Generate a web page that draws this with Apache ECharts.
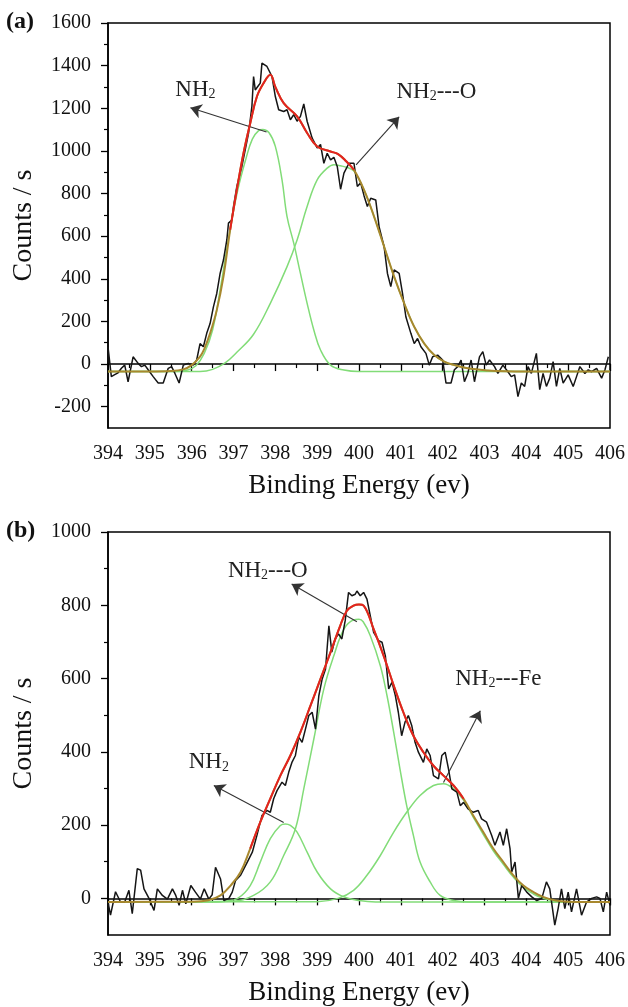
<!DOCTYPE html>
<html><head><meta charset="utf-8">
<script src="https://cdn.jsdelivr.net/npm/echarts@6/dist/echarts.min.js"></script>
<style>html,body{margin:0;padding:0;background:#fff}#c{width:628px;height:1007px}</style>
</head><body><div id="c"></div>
<script>
// ---------- data (binding energy eV, counts/s) ----------
const rawA = [[394.00,81],[394.08,-59],[394.16,-50],[394.24,-41],[394.32,-20],[394.40,-5],[394.48,-83],[394.60,34],[394.72,3],[394.80,-12],[394.88,-5],[394.96,-27],[395.08,-59],[395.20,-89],[395.32,-89],[395.44,-20],[395.52,-12],[395.60,-44],[395.70,-89],[395.80,-5],[395.92,3],[396.04,-5],[396.12,19],[396.20,96],[396.28,81],[396.36,144],[396.44,190],[396.52,268],[396.60,331],[396.68,425],[396.76,488],[396.84,582],[396.88,661],[396.96,676],[397.00,739],[397.08,833],[397.16,896],[397.20,927],[397.28,1005],[397.36,1084],[397.40,1146],[397.44,1209],[397.48,1349],[397.52,1286],[397.58,1302],[397.64,1318],[397.68,1412],[397.80,1396],[397.92,1349],[398.00,1255],[398.08,1193],[398.20,1185],[398.28,1193],[398.36,1146],[398.44,1170],[398.52,1139],[398.60,1162],[398.68,1220],[398.76,1139],[398.88,1060],[399.00,1014],[399.08,1030],[399.16,942],[399.24,989],[399.32,958],[399.40,970],[399.48,927],[399.56,820],[399.64,896],[399.76,942],[399.88,942],[399.96,833],[400.04,850],[400.12,790],[400.20,739],[400.28,778],[400.40,770],[400.48,645],[400.60,551],[400.68,425],[400.76,363],[400.84,442],[400.96,425],[401.04,332],[401.12,222],[401.24,144],[401.32,96],[401.40,120],[401.48,81],[401.60,50],[401.68,-5],[401.76,34],[401.88,42],[402.00,19],[402.08,-89],[402.20,-89],[402.28,-27],[402.36,-12],[402.44,19],[402.52,-83],[402.60,-44],[402.68,19],[402.76,-83],[402.88,34],[402.96,58],[403.04,-5],[403.12,19],[403.24,-12],[403.32,-44],[403.44,-5],[403.56,-36],[403.64,-59],[403.72,-51],[403.80,-153],[403.88,-89],[403.96,-105],[404.04,-12],[404.12,-44],[404.24,50],[404.32,-120],[404.40,-44],[404.48,-105],[404.56,-66],[404.64,11],[404.72,-105],[404.80,-20],[404.88,-89],[405.00,-51],[405.12,-105],[405.20,-59],[405.28,-12],[405.40,-44],[405.48,-27],[405.56,-36],[405.68,-20],[405.80,-66],[405.88,-27],[405.96,34]];
const envA = [[394.0,-35],[395.0,-35],[395.5,-33],[395.8,-25],[396.0,-5],[396.2,35],[396.3,70],[396.44,144],[396.6,253],[396.76,410],[396.92,630],[397.08,818],[397.24,990],[397.4,1130],[397.56,1255],[397.72,1318],[397.88,1357],[398.0,1300],[398.2,1224],[398.52,1162],[398.76,1084],[399.0,1021],[399.32,997],[399.5,985],[399.7,950],[399.88,911],[400.12,817],[400.36,692],[400.6,551],[400.84,410],[401.08,285],[401.32,175],[401.56,96],[401.8,42],[402.04,11],[402.28,-5],[402.6,-20],[403.08,-30],[403.5,-34],[404.0,-35],[406.0,-35]];
const compA1 = [[394.0,-35],[395.6,-35],[395.9,-28],[396.1,-8],[396.3,50],[396.5,160],[396.7,370],[396.9,610],[397.1,815],[397.3,965],[397.45,1055],[397.6,1095],[397.7,1100],[397.85,1085],[398.0,1021],[398.16,864],[398.28,692],[398.44,567],[398.6,425],[398.76,285],[398.92,160],[399.08,66],[399.32,-5],[399.64,-28],[400.0,-35],[406.0,-35]];
const compA2 = [[394.0,-35],[396.2,-35],[396.5,-25],[396.8,5],[397.08,55],[397.48,140],[397.88,285],[398.28,457],[398.52,582],[398.76,739],[399.0,864],[399.24,919],[399.4,935],[399.56,930],[399.72,922],[399.88,905],[400.12,817],[400.36,692],[400.6,551],[400.84,410],[401.08,285],[401.32,175],[401.56,96],[401.8,42],[402.04,11],[402.28,-5],[402.6,-20],[403.08,-30],[403.5,-34],[404.0,-35],[406.0,-35]];

const rawB = [[394.00,-10],[394.06,-46],[394.18,18],[394.30,-10],[394.40,-10],[394.50,22],[394.58,-42],[394.70,81],[394.78,77],[394.86,26],[394.98,0],[395.10,-33],[395.18,26],[395.30,8],[395.42,-2],[395.54,26],[395.62,8],[395.70,-19],[395.78,22],[395.86,-15],[395.98,35],[396.09,17],[396.21,-2],[396.30,26],[396.41,-2],[396.49,10],[396.57,85],[396.69,53],[396.77,-6],[396.89,0],[396.97,17],[397.05,49],[397.17,63],[397.25,81],[397.33,99],[397.45,126],[397.56,172],[397.68,226],[397.80,240],[397.88,235],[397.96,272],[398.04,294],[398.16,317],[398.24,308],[398.32,344],[398.40,372],[398.48,390],[398.56,440],[398.64,426],[398.72,462],[398.80,499],[398.88,508],[398.96,462],[399.04,553],[399.12,599],[399.20,626],[399.28,744],[399.35,672],[399.43,708],[399.51,722],[399.59,708],[399.67,758],[399.75,835],[399.83,826],[399.91,830],[399.95,839],[400.03,826],[400.11,835],[400.19,817],[400.27,771],[400.35,726],[400.47,703],[400.55,699],[400.63,662],[400.71,572],[400.79,590],[400.87,553],[400.94,508],[401.02,444],[401.10,481],[401.18,499],[401.26,472],[401.34,426],[401.42,399],[401.54,371],[401.62,408],[401.70,390],[401.78,335],[401.90,326],[401.98,390],[402.06,399],[402.14,353],[402.22,299],[402.34,290],[402.42,253],[402.50,262],[402.61,244],[402.73,235],[402.85,240],[402.93,217],[403.05,208],[403.17,172],[403.25,145],[403.37,181],[403.45,145],[403.53,190],[403.61,136],[403.65,72],[403.73,99],[403.81,0],[403.89,35],[404.01,17],[404.13,4],[404.25,-6],[404.37,0],[404.48,45],[404.56,26],[404.68,-73],[404.76,-28],[404.84,26],[404.92,-28],[405.00,17],[405.08,-37],[405.20,26],[405.32,-46],[405.44,-10],[405.56,0],[405.68,4],[405.76,0],[405.84,-37],[405.92,17],[406.00,-19]];
const envB = [[394.0,-10],[396.0,-9],[396.4,-5],[396.69,8],[396.93,35],[397.17,72],[397.4,136],[397.64,208],[397.88,272],[398.12,335],[398.36,390],[398.6,454],[398.84,526],[399.08,599],[399.32,672],[399.55,744],[399.71,785],[399.87,799],[400.0,802],[400.11,799],[400.35,735],[400.59,662],[400.83,581],[401.06,508],[401.3,444],[401.54,399],[401.78,362],[402.02,335],[402.26,308],[402.5,272],[402.73,226],[402.97,181],[403.21,136],[403.45,99],[403.69,63],[403.93,35],[404.17,17],[404.4,4],[404.7,-6],[405.0,-9],[406.0,-10]];
const compB1 = [[394.0,-10],[396.6,-10],[396.8,-8],[397.1,0],[397.4,35],[397.64,99],[397.88,163],[398.12,199],[398.24,203],[398.36,199],[398.52,181],[398.76,126],[399.0,72],[399.32,26],[399.64,4],[400.0,-6],[400.4,-10],[406.0,-10]];
const compB2 = [[394.0,-10],[397.0,-8],[397.48,8],[397.88,45],[398.2,117],[398.48,190],[398.68,299],[398.92,435],[399.16,572],[399.4,663],[399.64,735],[399.87,760],[400.0,762],[400.1,755],[400.27,717],[400.51,635],[400.67,553],[400.83,453],[400.98,353],[401.14,253],[401.3,172],[401.46,99],[401.7,45],[401.94,8],[402.26,-6],[402.6,-10],[406.0,-10]];
const compB3 = [[394.0,-10],[399.0,-9],[399.5,0],[399.87,22],[400.19,63],[400.51,117],[400.83,181],[401.14,235],[401.46,281],[401.78,308],[402.02,313],[402.26,299],[402.5,268],[402.73,222],[402.97,175],[403.21,130],[403.45,93],[403.69,58],[403.93,30],[404.17,12],[404.4,0],[404.7,-7],[405.0,-10],[406.0,-10]];

// tick values
const yMajorA = [-200,0,200,400,600,800,1000,1200,1400,1600];
const yMinorA = [-100,100,300,500,700,900,1100,1300,1500];
const yMajorB = [0,200,400,600,800,1000];
const yMinorB = [100,300,500,700,900];

// annotations: label text, label position [eV, counts], arrow tail, arrow head
const labelsA = [
  {text:'NH{s|2}', at:[396.09,1286], tail:[397.79,1089], head:[395.97,1202]},
  {text:'NH{s|2}---O', at:[401.85,1277], tail:[399.93,934], head:[400.96,1160]}
];
const labelsB = [
  {text:'NH{s|2}---O', at:[397.82,894], tail:[399.95,755], head:[398.39,858]},
  {text:'NH{s|2}---Fe', at:[403.33,599], tail:[402.02,316], head:[402.90,512]},
  {text:'NH{s|2}', at:[396.41,371], tail:[398.20,207], head:[396.53,308]}
];

// ---------- styling ----------
const FONT = '"Liberation Serif","DejaVu Serif",serif';
const GREEN = '#82dc78', RED = '#e4221f', OLIVE = '#a8882e', BLACK = '#151515';

function xAx(gi){
  return {gridIndex:gi, type:'value', min:394, max:406, interval:1,
    name:'Binding Energy (ev)', nameLocation:'middle', nameGap:44,
    nameTextStyle:{fontFamily:FONT, fontSize:27, color:'#111'},
    axisLine:{show:true, lineStyle:{color:'#000', width:1.5}},
    axisTick:{show:true, inside:false, length:7, lineStyle:{color:'#000', width:1.3}},
    minorTick:{show:true, splitNumber:2, length:4, lineStyle:{color:'#000', width:1.2}},
    axisLabel:{fontFamily:FONT, fontSize:20, color:'#111', margin:16, formatter:v=>String(v)},
    splitLine:{show:false}};
}
function yAx(gi, min, max, major, withName){
  return {gridIndex:gi, type:'value', min:min, max:max,
    name: withName ? 'Counts / s' : '', nameLocation:'middle', nameGap:70, nameRotate:90,
    nameTextStyle:{fontFamily:FONT, fontSize:28, color:'#111'},
    axisLine:{show:true, lineStyle:{color:'#000', width:1.5}},
    axisTick:{show:true, inside:false, length:7, customValues:major, lineStyle:{color:'#000', width:1.3}},
    axisLabel:{fontFamily:FONT, fontSize:20, color:'#111', margin:17, customValues:major, formatter:v=>String(v)},
    splitLine:{show:false}};
}
function yMinor(gi, min, max, minor){
  return {gridIndex:gi, type:'value', min:min, max:max, position:'left',
    axisLine:{show:false}, axisLabel:{show:false}, splitLine:{show:false},
    axisTick:{show:true, inside:false, length:4, customValues:minor, lineStyle:{color:'#000', width:1.2}}};
}
function line(data, xi, yi, color, width, smooth, z){
  return {type:'line', data:data, xAxisIndex:xi, yAxisIndex:yi, symbol:'none', smooth:smooth,
    lineStyle:{color:color, width:width}, z:z, silent:true, animation:false};
}
function annot(list, xi, yi){
  return {type:'line', data:[], xAxisIndex:xi, yAxisIndex:yi, z:10, silent:true, animation:false,
    markLine:{silent:true, animation:false, symbol:['none','arrow'], symbolSize:11,
      lineStyle:{color:'#333', width:1.1, type:'solid'}, label:{show:false},
      data:list.map(l=>[{coord:l.tail},{coord:l.head}])},
    markPoint:{silent:true, animation:false, symbol:'circle', symbolSize:1,
      itemStyle:{color:'rgba(0,0,0,0)'},
      label:{show:true, position:'inside', color:'#222', fontFamily:FONT, fontSize:23,
        rich:{s:{fontFamily:FONT, fontSize:14, color:'#222', padding:[12,0,0,0], lineHeight:15, verticalAlign:'bottom'}}},
      data:list.map(l=>({coord:l.at, value:0, label:{formatter:l.text}}))}};
}
const inRange = (arr, a, b) => arr.filter(p => p[0] >= a && p[0] <= b);

const chart = echarts.init(document.getElementById('c'), null, {renderer:'canvas'});
chart.setOption({
  animation:false,
  backgroundColor:'#fff',
  grid:[
    {left:108, top:23, width:502, height:405, show:true, borderColor:'#000', borderWidth:1.5, backgroundColor:'transparent'},
    {left:108, top:532, width:505, height:408, show:true, borderColor:'#000', borderWidth:1.5, backgroundColor:'transparent'}
  ],
  xAxis:[xAx(0), xAx(1)],
  yAxis:[yAx(0,-300,1600,yMajorA,true), yMinor(0,-300,1600,yMinorA),
         yAx(1,-100,1000,yMajorB,true), yMinor(1,-100,1000,yMinorB)],
  graphic:[
    {type:'text', left:6, top:10, style:{text:'(a)', font:'bold 24px "Liberation Serif"', fill:'#111'}},
    {type:'text', left:6, top:519, style:{text:'(b)', font:'bold 24px "Liberation Serif"', fill:'#111'}}
  ],
  series:[
    line(compA1,0,0,GREEN,1.5,0.4,2),
    line(compA2,0,0,GREEN,1.5,0.4,2),
    line(rawA,0,0,BLACK,1.5,false,3),
    line(envA,0,0,OLIVE,2,0.4,4),
    line(inRange(envA,396.9,400.0),0,0,RED,2,0.4,5),
    annot(labelsA,0,0),
    line(compB1,1,2,GREEN,1.5,0.4,2),
    line(compB2,1,2,GREEN,1.5,0.4,2),
    line(compB3,1,2,GREEN,1.5,0.4,2),
    line(rawB,1,2,BLACK,1.5,false,3),
    line(envB,1,2,OLIVE,2,0.4,4),
    line(inRange(envB,397.3,402.6),1,2,RED,2,0.4,5),
    annot(labelsB,1,2)
  ]
});
</script></body></html>
